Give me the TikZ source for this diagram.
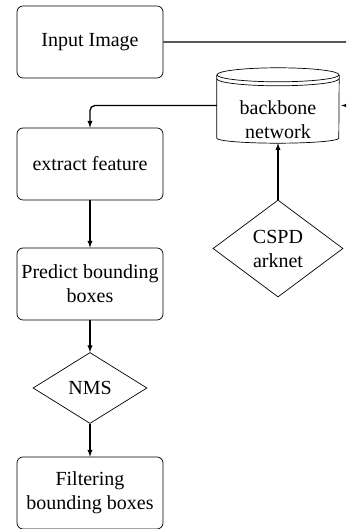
\documentclass[tikz,border=0pt]{standalone}
\usepackage{fontspec}
\setmainfont{Liberation Serif}
\usepackage{tikz}
\usetikzlibrary{shapes.geometric}

\begin{document}
\begin{tikzpicture}[x=1pt, y=1pt,
        stepbox/.style={draw, line width=0.7pt, rounded corners=6pt, minimum width=146pt, minimum height=72pt, inner sep=2pt, align=center, font=\fontsize{20}{24}\selectfont},
        choice/.style={draw, line width=0.7pt, shape=diamond, inner sep=0pt, align=center, font=\fontsize{20}{24}\selectfont},
        txt/.style={align=center, font=\fontsize{20}{24}\selectfont},
        conn/.style={-latex, line width=1.3pt, rounded corners=5pt}]
        \useasboundingbox (0, 0) rectangle (346, 529);
        \clip (0, 0) rectangle (346, 529);

        \node [stepbox] (input) at (90, 487) {Input Image};
        \node [stepbox] (feat) at (90, 365) {extract feature};
        \node [stepbox] (pred) at (90, 245) {Predict bounding\\boxes};
        \node [choice, minimum width=114pt, minimum height=71pt] (nms) at (90, 141) {NMS};
        \node [stepbox] (filt) at (90, 36) {Filtering\\bounding boxes};

        % backbone cylinder
        \node [minimum width=122pt, minimum height=75pt, inner sep=0pt] (bb) at (278, 423.5) {};
        \node [txt] (bbtext) at (278, 409) {backbone\\network};
        \draw [line width=0.7pt] ([yshift=-7pt]bb.north) ellipse [x radius=61pt, y radius=7pt];
        \draw [line width=0.7pt] ([yshift=-11pt]bb.north west) arc [start angle=180, end angle=360, x radius=61pt, y radius=7pt];
        \draw [line width=0.7pt] ([yshift=-7pt]bb.north west) -- ([yshift=5pt]bb.south west)
            arc [start angle=180, end angle=360, x radius=61pt, y radius=5pt] -- ([yshift=-7pt]bb.north east);

        \node [choice, minimum width=130pt, minimum height=97pt] (csp) at (278, 280.5) {CSPD\\arknet};

        % connectors
        \coordinate (outr) at (356, 487);
        \draw [conn] (input.east) -- (outr) |- ([xshift=2pt]bb.east);
        \draw [conn] (bb.west) -| (feat.north);
        \draw [conn] (feat.south) -- (pred.north);
        \draw [conn] (pred.south) -- (nms.north);
        \draw [conn] (nms.south) -- (filt.north);
        \draw [conn] (csp.north) -- (bb.south);
    \end{tikzpicture}
\end{document}
